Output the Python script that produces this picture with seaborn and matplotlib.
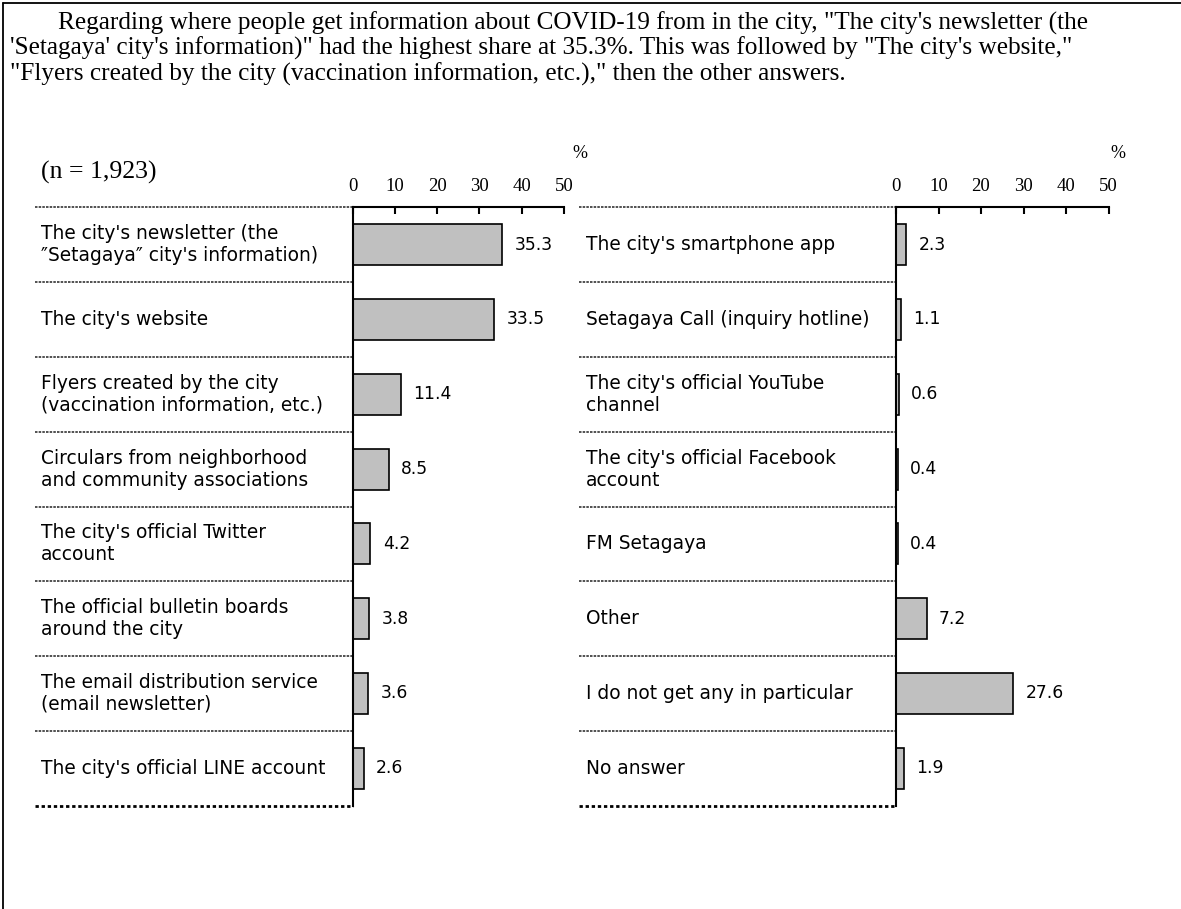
import matplotlib
matplotlib.use("Agg")
import matplotlib.pyplot as plt
import matplotlib.transforms as mtransforms
from matplotlib.lines import Line2D
import seaborn as sns
import pandas as pd

sns.set_theme(style="white")
plt.rcParams['font.family'] = ['DejaVu Sans', 'Noto Sans CJK JP']
plt.rcParams['text.color'] = 'black'
plt.rcParams['axes.labelcolor'] = 'black'

# ---------------- data ----------------
title_lines = [
    "Regarding where people get information about COVID-19 from in the city, \"The city's newsletter (the",
    "'Setagaya' city's information)\" had the highest share at 35.3%. This was followed by \"The city's website,\"",
    "\"Flyers created by the city (vaccination information, etc.),\" then the other answers.",
]
sample_note = "(n = 1,923)"
x_ticks = [0, 10, 20, 30, 40, 50]
unit_label = "%"

left_categories = [
    "The city's newsletter (the\n\u2033Setagaya\u2033 city's information)",
    "The city's website",
    "Flyers created by the city\n(vaccination information, etc.)",
    "Circulars from neighborhood\nand community associations",
    "The city's official Twitter\naccount",
    "The official bulletin boards\naround the city",
    "The email distribution service\n(email newsletter)",
    "The city's official LINE account",
]
left_values = [35.3, 33.5, 11.4, 8.5, 4.2, 3.8, 3.6, 2.6]

right_categories = [
    "The city's smartphone app",
    "Setagaya Call (inquiry hotline)",
    "The city's official YouTube\nchannel",
    "The city's official Facebook\naccount",
    "FM Setagaya",
    "Other",
    "I do not get any in particular",
    "No answer",
]
right_values = [2.3, 1.1, 0.6, 0.4, 0.4, 7.2, 27.6, 1.9]

# ---------------- figure ----------------
W, H = 1181, 909
fig = plt.figure(figsize=(W / 100, H / 100), dpi=100)
fig.patch.set_facecolor("white")

def fx(px):
    return px / W

def fy(py):
    return 1 - py / H

# frame (top and left border)
fig.add_artist(Line2D([fx(3), fx(W)], [fy(3), fy(3)], color="black", lw=1.3, transform=fig.transFigure))
fig.add_artist(Line2D([fx(3), fx(3)], [fy(3), fy(H)], color="black", lw=1.3, transform=fig.transFigure))

# title
serif = ['Liberation Serif', 'DejaVu Serif']
title_pos = [(58, 23), (10, 48.5), (10, 74)]
for (tx, ty), line in zip(title_pos, title_lines):
    fig.text(fx(tx), fy(ty), line, family=serif, fontsize=18.2, ha="left", va="center", color="black")

fig.text(fx(41), fy(172), sample_note, family=serif, fontsize=18.5, ha="left", va="center", color="black")

top_px, bot_px = 207.3, 805.7
ax_h = (bot_px - top_px) / H
panels = [
    (left_categories, left_values, 352.7, 564.0, 35, 41, 580),
    (right_categories, right_values, 896.0, 1108.5, 579, 586, 1118),
]

for cats, vals, x0, x1, line_start, text_x, pct_x in panels:
    ax = fig.add_axes([fx(x0), fy(bot_px), (x1 - x0) / W, ax_h])
    df = pd.DataFrame({"category": cats, "value": vals})
    sns.barplot(data=df, x="value", y="category", orient="h", ax=ax,
                color="#C0C0C0", edgecolor="black", linewidth=1.2,
                width=0.55, saturation=1)
    ax.set_xlim(0, 50)
    ax.set_ylim(len(cats) - 0.5, -0.5)
    ax.set_xlabel("")
    ax.set_ylabel("")
    ax.set_facecolor("none")
    for s in ["right", "bottom"]:
        ax.spines[s].set_visible(False)
    for s in ["top", "left"]:
        ax.spines[s].set_visible(True)
        ax.spines[s].set_color("black")
        ax.spines[s].set_linewidth(1.5)
    ax.xaxis.tick_top()
    ax.set_xticks(x_ticks)
    ax.set_xticklabels([str(t) for t in x_ticks], family=serif, fontsize=13.5)
    ax.tick_params(axis="x", direction="in", length=5, width=1.5, pad=9.0,
                   colors="black", labelcolor="black")
    ax.set_yticks([i + 0.5 for i in range(len(cats) - 1)])
    ax.set_yticklabels([])
    ax.tick_params(axis="y", direction="in", length=3, width=1.0, colors="black")

    ax.bar_label(ax.containers[0], labels=[f"{v:.1f}" for v in vals],
                 padding=9, fontsize=12.3, color="black")

    trans = mtransforms.blended_transform_factory(fig.transFigure, ax.transData)
    for i, c in enumerate(cats):
        ax.text(fx(text_x), i, c, transform=trans, ha="left", va="center",
                fontsize=13.4, linespacing=1.2, color="black", clip_on=False)
    for b in range(len(cats) + 1):
        y = b - 0.5
        if b == len(cats):
            ax.add_line(Line2D([fx(line_start), fx(x0)], [y, y], transform=trans,
                               color="black", lw=2.0, ls=(0, (1.2, 1.0)), clip_on=False))
        else:
            ax.add_line(Line2D([fx(line_start), fx(x0)], [y, y], transform=trans,
                               color="#333333", lw=1.2, ls=(0, (1.5, 0.7)), clip_on=False))

    fig.text(fx(pct_x), fy(153), unit_label, family=serif, fontsize=13, ha="center",
             va="center", color="black")

fig.savefig("out.png", dpi=100, facecolor="white")
